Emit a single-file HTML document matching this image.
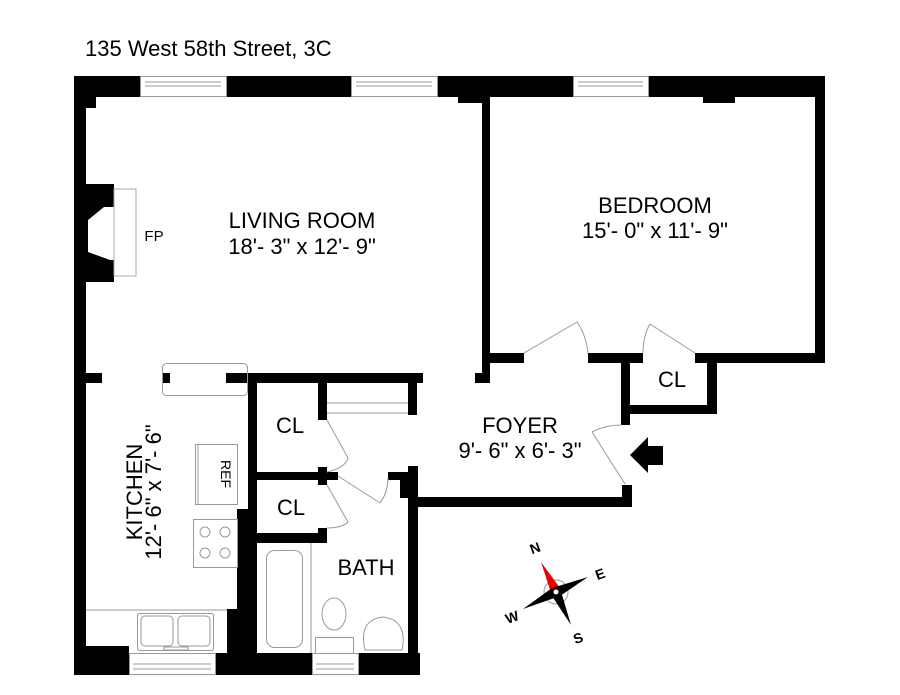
<!DOCTYPE html>
<html><head><meta charset="utf-8"><style>html,body{margin:0;padding:0;background:#fff}svg{display:block}text{font-family:"Liberation Sans",Arial,sans-serif;fill:#000}</style></head><body>
<svg width="900" height="695" viewBox="0 0 900 695" xmlns="http://www.w3.org/2000/svg">
<text x="85" y="56" font-size="22">135 West 58th Street, 3C</text>
<g fill="#000">
<rect x="74" y="76" width="66" height="21"/>
<rect x="74" y="76" width="22" height="32"/>
<rect x="226" y="76" width="125" height="21"/>
<rect x="437" y="76" width="136" height="21"/>
<rect x="458" y="76" width="32" height="27"/>
<rect x="648" y="76" width="177" height="21"/>
<rect x="703" y="76" width="32" height="27"/>
<rect x="815" y="76" width="10" height="287"/>
<rect x="695" y="353" width="130" height="10"/>
<rect x="486" y="353" width="38" height="10"/>
<rect x="588" y="353" width="55" height="10"/>
<rect x="482" y="97" width="8" height="286"/>
<rect x="475" y="373" width="15" height="10"/>
<rect x="621" y="363" width="9" height="62"/>
<rect x="707" y="363" width="10" height="51"/>
<rect x="621" y="405" width="96" height="9"/>
<rect x="622" y="485" width="10" height="22"/>
<rect x="408" y="497" width="224" height="10"/>
<rect x="74" y="76" width="12" height="599"/>
<rect x="86" y="184" width="28" height="98"/>
<rect x="86" y="373" width="16" height="10"/>
<rect x="162" y="373" width="8" height="10"/>
<rect x="226" y="373" width="197" height="10"/>
<rect x="248" y="383" width="9" height="160"/>
<rect x="318" y="383" width="9" height="37"/>
<rect x="408" y="383" width="9" height="32"/>
<rect x="257" y="472" width="81" height="8"/>
<rect x="318" y="467" width="9" height="18"/>
<rect x="257" y="533" width="70" height="10"/>
<rect x="318" y="528" width="9" height="15"/>
<rect x="237" y="509" width="20" height="101"/>
<rect x="227" y="609" width="30" height="66"/>
<rect x="408" y="466" width="10" height="190"/>
<rect x="388" y="472" width="30" height="8"/>
<rect x="400" y="472" width="18" height="26"/>
<rect x="74" y="646" width="55" height="29"/>
<rect x="215" y="653" width="97" height="22"/>
<rect x="358" y="653" width="62" height="22"/>
<rect x="227" y="646" width="30" height="10"/>
</g>
<polygon points="114,207 104,207 88,220 88,252 110,260 114,260" fill="#fff"/>
<rect x="114" y="189" width="22" height="87" fill="none" stroke="#aaa" stroke-width="1"/>
<g fill="none" stroke="#999" stroke-width="1">
<rect x="140.5" y="76.5" width="86" height="20"/><line x1="145" y1="82" x2="221" y2="82"/><line x1="145" y1="86" x2="221" y2="86"/>
<rect x="351.5" y="76.5" width="86" height="20"/><line x1="356" y1="82" x2="432" y2="82"/><line x1="356" y1="86" x2="432" y2="86"/>
<rect x="573.5" y="76.5" width="75" height="20"/><line x1="578" y1="82" x2="643" y2="82"/><line x1="578" y1="86" x2="643" y2="86"/>
<rect x="129.5" y="653.5" width="86" height="21"/><line x1="133" y1="664" x2="211" y2="664"/><line x1="133" y1="669" x2="211" y2="669"/>
<rect x="312.5" y="653.5" width="46" height="21"/><line x1="316" y1="664" x2="354" y2="664"/><line x1="316" y1="669" x2="354" y2="669"/>
<rect x="162.5" y="363.5" width="85" height="32" rx="4"/>
<line x1="327" y1="403" x2="408" y2="403"/><line x1="327" y1="413" x2="408" y2="413"/>
<line x1="524" y1="353" x2="577" y2="322"/><path d="M577,322 Q586,335 588,353"/>
<line x1="695" y1="353" x2="650" y2="324"/><path d="M650,324 Q643,336 643,353"/>
<line x1="625" y1="484" x2="592" y2="432"/><path d="M592,432 Q605,425 622,425"/>
<line x1="327" y1="420" x2="348" y2="458"/><path d="M348,458 Q345,468 327,472"/>
<line x1="327" y1="485" x2="348" y2="522"/><path d="M348,522 Q342,528 327,528"/>
<line x1="338" y1="476" x2="380" y2="503"/><path d="M380,503 Q388,492 388,478"/>
<line x1="86" y1="610" x2="227" y2="610"/>
<rect x="137.5" y="613.5" width="76" height="37" rx="2"/>
<rect x="141" y="616" width="32" height="30" rx="4"/><rect x="178" y="616" width="32" height="30" rx="4"/>
<rect x="164" y="647" width="24" height="3"/>
<rect x="195.5" y="444.5" width="42" height="60"/><line x1="198" y1="444" x2="198" y2="504"/>
<rect x="193.5" y="519.5" width="44" height="48"/>
<circle cx="205" cy="532" r="5"/><circle cx="225" cy="532" r="5"/><circle cx="205" cy="553" r="5"/><circle cx="225" cy="553" r="5"/>
<line x1="311" y1="543" x2="311" y2="653"/>
<rect x="266.5" y="550.5" width="36" height="97" rx="8"/>
<rect x="315.5" y="637.5" width="38" height="16"/>
<ellipse cx="334" cy="614" rx="12" ry="16"/>
<path d="M365,650 Q358,620 383,617 Q408,620 402,650 Z"/>
</g>
<polygon points="630,455 648,437 648,446 663,446 663,465 648,465 648,473" fill="#000"/>
<g>
<circle cx="556" cy="592" r="12" fill="none" stroke="#999"/>
<polygon points="541,562 560,588 552,596" fill="#e00"/>
<polygon points="588,577 552,588 560,596" fill="#000"/>
<polygon points="571,625 552,596 560,588" fill="#000"/>
<polygon points="523,609 560,596 552,588" fill="#000"/>
<circle cx="556" cy="592" r="2.5" fill="#fff"/>
<text x="535" y="553" font-size="14" font-weight="bold" transform="rotate(-20 535 548)" text-anchor="middle">N</text>
<text x="600" y="579" font-size="14" font-weight="bold" transform="rotate(-20 600 574)" text-anchor="middle">E</text>
<text x="578" y="643" font-size="14" font-weight="bold" transform="rotate(-20 578 638)" text-anchor="middle">S</text>
<text x="512" y="622" font-size="14" font-weight="bold" transform="rotate(-20 512 617)" text-anchor="middle">W</text>
</g>
<g font-size="22" text-anchor="middle">
<text x="302" y="228">LIVING ROOM</text>
<text x="302" y="254">18'- 3" x 12'- 9"</text>
<text x="655" y="213">BEDROOM</text>
<text x="655" y="238">15'- 0" x 11'- 9"</text>
<text x="520" y="433">FOYER</text>
<text x="520" y="458">9'- 6" x 6'- 3"</text>
<text x="672" y="387">CL</text>
<text x="290" y="433">CL</text>
<text x="291" y="515">CL</text>
<text x="366" y="575">BATH</text>
<text transform="translate(142,492) rotate(-90)">KITCHEN</text>
<text transform="translate(161,492) rotate(-90)">12'- 6" x 7'- 6"</text>
</g>
<text x="154" y="241" font-size="15" text-anchor="middle">FP</text>
<text transform="translate(221,474) rotate(90)" font-size="14" text-anchor="middle">REF</text>
</svg>
</body></html>
